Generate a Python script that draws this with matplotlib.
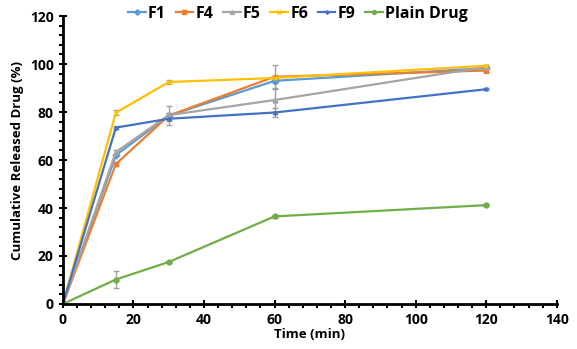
import numpy as np
import matplotlib.pyplot as plt
from matplotlib.ticker import MultipleLocator

plt.rcParams['font.family'] = ['Open Sans', 'DejaVu Sans']

# zaman noktaları (dk)
time = [0, 15, 30, 60, 120]

f1 = [0, 62, 78.5, 93, 98.3]
f4 = [0, 58.3, 78.5, 94.7, 97.3]
f5 = [0, 63.3, 78.7, 85, 98.8]
f6 = [0, 79.7, 92.5, 94.2, 99.3]
f9 = [0, 73.5, 77.2, 79.8, 89.5]
plain = [0, 10.2, 17.5, 36.5, 41.2]

f1_err = [0, 0, 1, 1, 0.5]
f4_err = [0, 1, 1, 5, 0.5]
f5_err = [0, 1, 4, 5, 0.5]
f6_err = [0, 1, 1, 0.5, 0.5]
f9_err = [0, 0.5, 1, 2, 0.5]
plain_err = [0, 3.5, 0.5, 0.5, 0.5]

names = ["F1", "F4", "F5", "F6", "F9", "Plain Drug"]
values = [f1, f4, f5, f6, f9, plain]
errors = [f1_err, f4_err, f5_err, f6_err, f9_err, plain_err]
colors = ["#5B9BD5", "#ED7D31", "#A5A5A5", "#FFC000", "#4472C4", "#70AD47"]
markers = ["D", "s", "^", "x", (6, 2, 0), "o"]

fig = plt.figure(figsize=(5.77, 3.49), dpi=100)
ax = fig.add_axes([0.109, 0.129, 0.856, 0.825])

for name, v, e, c, m in zip(names, values, errors, colors, markers):
    ax.errorbar(time, v, yerr=e, color=c, marker=m, markersize=3.5, lw=1.6,
                ecolor="#A0A0A0", elinewidth=1, capsize=2, label=name)

ax.set_xlim(0, 140)
ax.set_ylim(0, 120)
ax.xaxis.set_major_locator(MultipleLocator(20))
ax.xaxis.set_minor_locator(MultipleLocator(4))
ax.yaxis.set_major_locator(MultipleLocator(20))
ax.yaxis.set_minor_locator(MultipleLocator(4))
ax.spines['top'].set_visible(False)
ax.spines['right'].set_visible(False)
for s in ['left', 'bottom']:
    ax.spines[s].set_linewidth(2)
ax.tick_params(which='major', direction='inout', length=6, width=1.5, labelsize=10)
ax.tick_params(which='minor', direction='out', length=3, width=1.5)
for lab in ax.get_xticklabels() + ax.get_yticklabels():
    lab.set_fontweight('bold')
ax.set_xlabel("Time (min)", fontweight='bold', fontsize=9.5, labelpad=1)
ax.set_ylabel("Cumulative Released Drug (%)", fontweight='bold', fontsize=9.5)

h, l = ax.get_legend_handles_labels()
h = [x[0] for x in h]
ax.legend(h, l, loc='upper center', bbox_to_anchor=(0.476, 1.085), ncol=6, frameon=False,
          prop={'weight': 'bold', 'size': 11.5}, handlelength=1.1, handletextpad=0.15,
          columnspacing=0.6, markerscale=0.8)

plt.savefig("out.png")
